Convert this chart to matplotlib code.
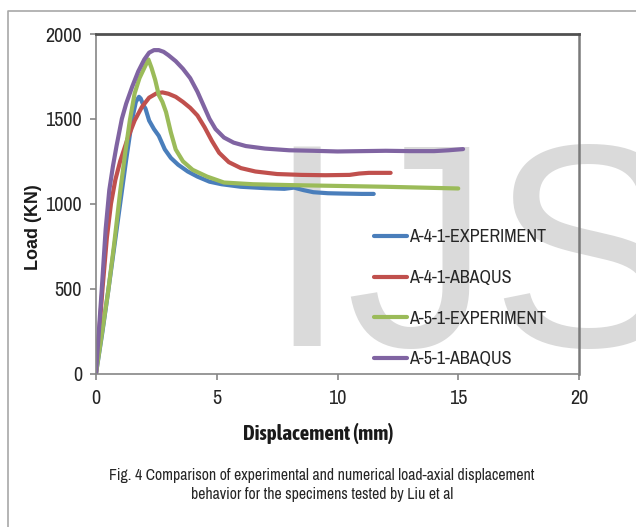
import matplotlib
matplotlib.use("Agg")
import matplotlib.pyplot as plt
from matplotlib.lines import Line2D

# ---------------- data ----------------
labels = ["A-4-1-EXPERIMENT", "A-4-1-ABAQUS", "A-5-1-EXPERIMENT", "A-5-1-ABAQUS"]
colors = ["#4a7ebb", "#c0504d", "#9bbb59", "#8064a2"]

a41_exp_x = [0, 0.25, 0.5, 0.75, 1.0, 1.25, 1.5, 1.65, 1.78, 1.85, 1.95, 2.05, 2.2, 2.4, 2.6,
             2.85, 3.1, 3.4, 3.8, 4.2, 4.7, 5.2, 6.0, 7.0, 7.8, 8.2, 8.6, 9.0, 9.6, 10.2, 11.0, 11.5]
a41_exp_y = [0, 230, 480, 740, 1000, 1260, 1500, 1600, 1630, 1620, 1585, 1560, 1490, 1440, 1400,
             1320, 1270, 1230, 1190, 1160, 1130, 1115, 1100, 1092, 1088, 1095, 1080, 1068, 1062, 1060, 1058, 1058]

a41_aba_x = [0, 0.27, 0.45, 0.62, 0.8, 1.0, 1.3, 1.6, 1.9, 2.2, 2.5, 2.75, 3.0, 3.3, 3.6, 3.9,
             4.2, 4.5, 4.8, 5.1, 5.5, 6.0, 6.6, 7.5, 8.5, 9.5, 10.5, 10.9, 11.3, 12.2]
a41_aba_y = [0, 500, 800, 1000, 1140, 1250, 1380, 1490, 1570, 1625, 1650, 1656, 1648, 1630, 1600, 1565,
             1520, 1450, 1370, 1300, 1245, 1210, 1190, 1175, 1170, 1168, 1170, 1178, 1182, 1182]

a51_exp_x = [0, 0.25, 0.5, 0.75, 1.0, 1.2, 1.4, 1.6, 1.8, 2.0, 2.17, 2.3, 2.45, 2.6, 2.75, 2.9,
             3.0, 3.1, 3.3, 3.6, 4.0, 4.6, 5.3, 6.5, 8.0, 10.0, 12.0, 13.5, 15.0]
a51_exp_y = [0, 240, 480, 760, 1070, 1290, 1490, 1650, 1740, 1800, 1850, 1800, 1730, 1640, 1600, 1540,
             1480, 1420, 1320, 1250, 1200, 1160, 1125, 1115, 1110, 1105, 1100, 1095, 1090]

a51_aba_x = [0, 0.24, 0.4, 0.55, 0.7, 0.85, 1.07, 1.25, 1.5, 1.75, 2.0, 2.2, 2.4, 2.6, 2.8, 3.0,
             3.3, 3.6, 3.9, 4.2, 4.45, 4.7, 4.95, 5.3, 5.7, 6.2, 7.0, 8.0, 9.0, 10.0, 11.0, 12.0,
             13.0, 14.0, 14.6, 15.2]
a51_aba_y = [0, 500, 850, 1080, 1220, 1340, 1500, 1590, 1690, 1780, 1850, 1890, 1905, 1905, 1895, 1875,
             1840, 1795, 1740, 1660, 1580, 1500, 1440, 1390, 1360, 1340, 1325, 1315, 1312, 1308, 1310, 1312,
             1310, 1310, 1315, 1322]

x_ticks = [0, 5, 10, 15, 20]
y_ticks = [0, 500, 1000, 1500, 2000]
x_label = "Displacement (mm)"
y_label = "Load (KN)"
caption = ("Fig. 4 Comparison of experimental and numerical load-axial displacement\n"
           "behavior for the specimens tested by Liu et al")
watermark = "IJS"

series = [(a41_exp_x, a41_exp_y), (a41_aba_x, a41_aba_y),
          (a51_exp_x, a51_exp_y), (a51_aba_x, a51_aba_y)]

NARROW = ["Archivo Narrow", "Liberation Sans", "DejaVu Sans"]
NARROW_BOLD = ["Asap Condensed", "Liberation Sans", "DejaVu Sans"]
WIDE = ["Liberation Sans", "DejaVu Sans"]

W, H = 636, 527
fig = plt.figure(figsize=(W / 100, H / 100), dpi=100)
fig.patch.set_facecolor("white")

L, R, T, B = 96, 579, 34, 373.5
ax = fig.add_axes([L / W, 1 - B / H, (R - L) / W, (B - T) / H])

# watermark
ax.text(266 / W, 1 - 346 / H, watermark, transform=fig.transFigure, fontsize=208,
        family=WIDE, color="#dadada", ha="left", va="baseline", zorder=0.5, clip_on=False)

for (xs, ys), c, lab in zip(series, colors, labels):
    ax.plot(xs, ys, color=c, lw=3.0, label=lab, solid_capstyle="round", zorder=2)

ax.set_xlim(0, 20)
ax.set_ylim(0, 2000)
ax.set_xticks(x_ticks)
ax.set_yticks(y_ticks)
ax.set_xticklabels([str(v) for v in x_ticks], family=NARROW, fontsize=14.5, color="#262626")
ax.set_yticklabels([str(v) for v in y_ticks], family=NARROW, fontsize=14.5, color="#262626")
ax.tick_params(axis="both", direction="out", length=4, width=1.2, color="#868686")
ax.tick_params(axis="y", pad=6)
ax.tick_params(axis="x", pad=7)

for s in ["left", "bottom"]:
    ax.spines[s].set_color("#868686")
    ax.spines[s].set_linewidth(1.2)
ax.spines["top"].set_color("#505050")
ax.spines["top"].set_linewidth(2.0)
ax.spines["right"].set_color("#7a7a7a")
ax.spines["right"].set_linewidth(1.8)

leg = ax.legend(loc="upper left", bbox_to_anchor=((374 - L) / (R - L), (B - 229.5) / (B - T)),
                frameon=False, borderaxespad=0, borderpad=0, handlelength=1.83,
                handletextpad=0.1, labelspacing=1.36,
                prop={"family": NARROW, "size": 13})
for t in leg.get_texts():
    t.set_color("#262626")

fig.text(33 / W, 1 - 227 / H, y_label, rotation=90, ha="center", va="center",
         family=WIDE, fontweight="bold", fontsize=13, color="#1a1a1a")
fig.text(318 / W, 1 - 433 / H, x_label, ha="center", va="center",
         family=NARROW_BOLD, fontweight="bold", fontsize=15, color="#1a1a1a")
fig.text(322 / W, 1 - 485 / H, caption, ha="center", va="center", linespacing=1.3,
         family=NARROW, fontsize=11.3, color="#262626")

fig.add_artist(Line2D([8 / W, 8 / W, 1.0], [0, 1 - 11 / H, 1 - 11 / H],
                      transform=fig.transFigure, color="#a8a8a8", lw=1.2))

fig.savefig("out.png", dpi=100, facecolor="white")
